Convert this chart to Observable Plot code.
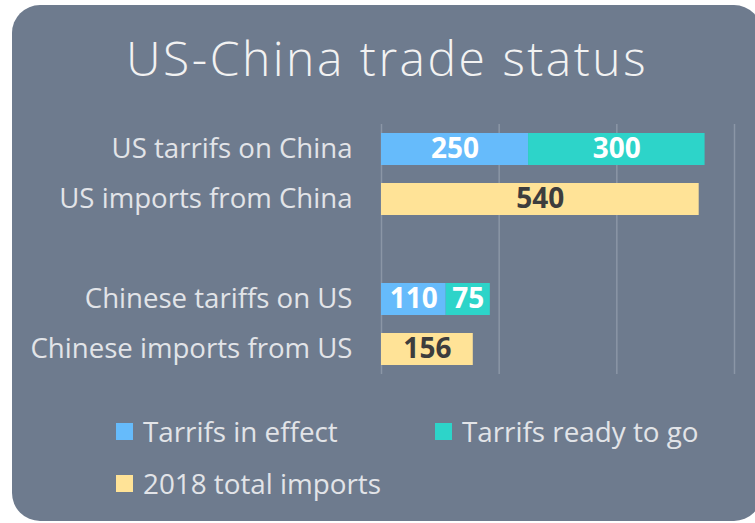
<!DOCTYPE html>
<html>
<head>
<meta charset="utf-8">
<script src="https://cdn.jsdelivr.net/npm/d3@7"></script>
<script src="https://cdn.jsdelivr.net/npm/@observablehq/plot@0.6"></script>
<style>
  html, body { margin: 0; padding: 0; background: #ffffff; width: 755px; height: 523px; overflow: hidden; }
  #card { position: absolute; left: 12px; top: 5px; width: 750px; height: 516px; background: #6e7b8e; border-radius: 28px; }
  #title { position: absolute; left: 0; top: 28px; width: 774px; text-align: center; font-family: "Open Sans", sans-serif; font-weight: 300; font-size: 48px; line-height: 60px; color: #f2f2f2; letter-spacing: 2.5px; }
  #chart { position: absolute; left: 0; top: 110px; }
  .leg { position: absolute; font-family: "Open Sans", sans-serif; font-size: 27.8px; color: #e2e4e8; display: flex; align-items: center; white-space: nowrap; }
  .sw { width: 17px; height: 17px; margin-right: 10px; display: inline-block; }
</style>
</head>
<body>
<div id="card"></div>
<div id="title">US-China trade status</div>
<div id="chart"></div>
<div id="legend"></div>
<script>
const categories = ["US tarrifs on China", "US imports from China", " ", "Chinese tariffs on US", "Chinese imports from US"];
const seriesNames = ["Tarrifs in effect", "Tarrifs ready to go", "2018 total imports"];
const tariffsInEffect = [250, null, null, 110, null];
const tariffsReady = [300, null, null, 75, null];
const totalImports = [null, 540, null, null, 156];
const xTicks = [0, 200, 400, 600];
const colors = ["#66bbfb", "#2dd4c9", "#ffe397"];

const seriesValues = [tariffsInEffect, tariffsReady, totalImports];
const rows = [];
seriesValues.forEach((vals, s) => {
  vals.forEach((v, i) => {
    if (v != null) rows.push({category: categories[i], series: seriesNames[s], value: v});
  });
});

const chart = Plot.plot({
  width: 755,
  height: 280,
  marginLeft: 381,
  marginRight: 21,
  marginTop: 14,
  marginBottom: 16,
  style: {background: "transparent", fontFamily: "'Open Sans', sans-serif", overflow: "visible"},
  x: {domain: [0, 600], axis: null},
  y: {domain: categories, paddingInner: 0.36, paddingOuter: 0.18, label: null, tickSize: 0, tickPadding: 29},
  color: {domain: seriesNames, range: colors},
  marks: [
    Plot.ruleX(xTicks, {stroke: "#8b96a6", strokeWidth: 1.5}),
    Plot.barX(rows, Plot.stackX({x: "value", y: "category", fill: "series", order: seriesNames})),
    Plot.text(rows, Plot.stackX({x: "value", y: "category", text: d => String(d.value), order: seriesNames,
      fill: d => d.series === "2018 total imports" ? "#3d3d3d" : "#ffffff",
      fontSize: 28, fontWeight: "bold"})),
    Plot.axisY({tickSize: 0, tickPadding: 29, fontSize: 27.6, color: "#e2e4e8", label: null})
  ]
});
document.getElementById("chart").appendChild(chart);

const legendPos = [[116, 432], [435, 432], [116, 484]];
const legend = document.getElementById("legend");
seriesNames.forEach((name, i) => {
  const el = document.createElement("div");
  el.className = "leg";
  el.style.left = legendPos[i][0] + "px";
  el.style.top = (legendPos[i][1] - 19) + "px";
  el.style.height = "36px";
  el.innerHTML = `<span class="sw" style="background:${colors[i]}"></span><span>${name}</span>`;
  legend.appendChild(el);
});
</script>
</body>
</html>
